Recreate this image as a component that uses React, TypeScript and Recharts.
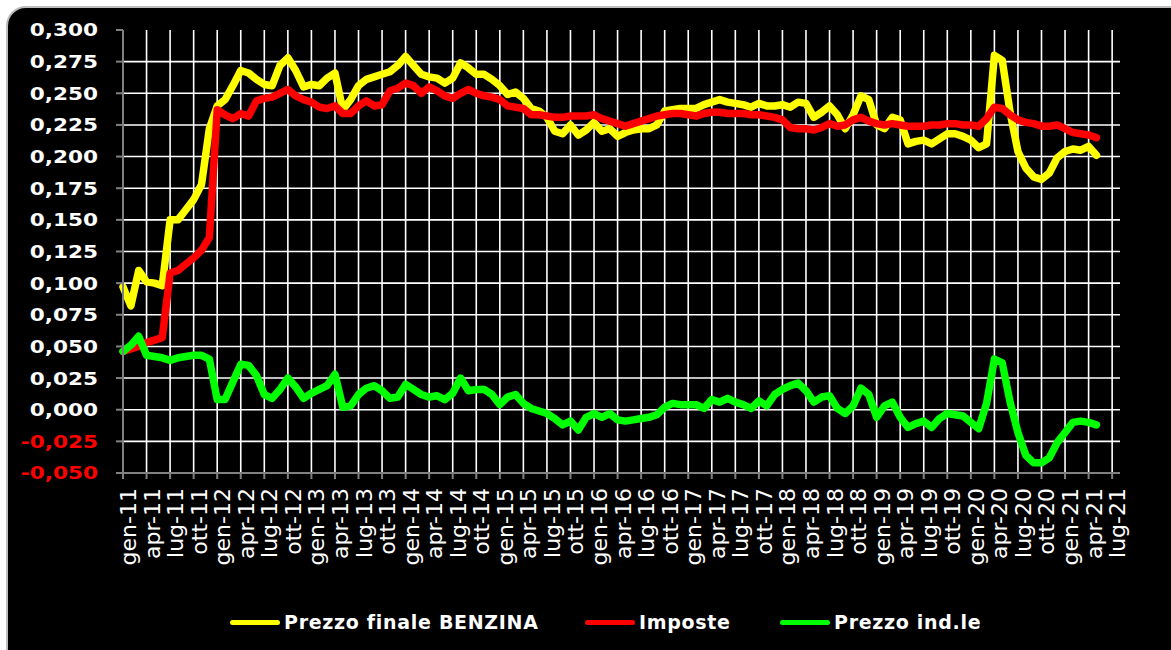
import { LineChart, Line, XAxis, YAxis, CartesianGrid } from 'recharts'

// months from gen-11 (index 0) to mag-21 (index 124)
const benzina = [
  0.097, 0.082, 0.110, 0.101, 0.100, 0.098, 0.150, 0.150, 0.158, 0.166, 0.178, 0.222,
  0.240, 0.245, 0.256, 0.268, 0.266, 0.261, 0.257, 0.256, 0.272, 0.278, 0.268, 0.255,
  0.257, 0.256, 0.262, 0.266, 0.237, 0.245, 0.256, 0.261, 0.263, 0.265, 0.267, 0.272,
  0.279, 0.272, 0.265, 0.263, 0.262, 0.258, 0.262, 0.274, 0.270, 0.265, 0.265, 0.261,
  0.256, 0.249, 0.251, 0.246, 0.238, 0.236, 0.231, 0.220, 0.218, 0.225, 0.217, 0.221,
  0.227, 0.220, 0.222, 0.216, 0.219, 0.221, 0.222, 0.222, 0.225, 0.236, 0.237, 0.238,
  0.238, 0.238, 0.241, 0.243, 0.245, 0.243, 0.242, 0.241, 0.239, 0.242, 0.240, 0.240,
  0.241, 0.239, 0.243, 0.242, 0.231, 0.235, 0.240, 0.233, 0.222, 0.233, 0.248, 0.245,
  0.225, 0.222, 0.231, 0.229, 0.210, 0.212, 0.213, 0.210, 0.214, 0.218, 0.218, 0.216,
  0.213, 0.207, 0.210, 0.280, 0.276, 0.235, 0.204, 0.191, 0.184, 0.182, 0.187, 0.199,
  0.204, 0.206, 0.205, 0.208, 0.201,
]

const imposte = [
  0.046, 0.048, 0.050, 0.053, 0.055, 0.057, 0.108, 0.110, 0.115, 0.120, 0.126, 0.136,
  0.237, 0.233, 0.230, 0.234, 0.232, 0.244, 0.246, 0.247, 0.250, 0.253, 0.248, 0.245,
  0.243, 0.239, 0.238, 0.240, 0.234, 0.234, 0.240, 0.244, 0.240, 0.241, 0.252, 0.254,
  0.258, 0.256, 0.250, 0.255, 0.252, 0.248, 0.246, 0.250, 0.253, 0.250, 0.248, 0.247,
  0.245, 0.240, 0.239, 0.238, 0.233, 0.233, 0.232, 0.231, 0.231, 0.232, 0.232, 0.232,
  0.233, 0.230, 0.228, 0.226, 0.224, 0.226, 0.228, 0.230, 0.232, 0.233, 0.234, 0.234,
  0.233, 0.232, 0.234, 0.235, 0.235, 0.234, 0.234, 0.234, 0.233, 0.233, 0.232, 0.231,
  0.229, 0.223, 0.222, 0.222, 0.221, 0.223, 0.226, 0.224, 0.225, 0.229, 0.231, 0.228,
  0.226, 0.225, 0.226, 0.225, 0.224, 0.224, 0.224, 0.225, 0.225, 0.226, 0.226, 0.225,
  0.225, 0.224, 0.230, 0.239, 0.238, 0.233, 0.229, 0.227, 0.226, 0.224, 0.224, 0.225,
  0.222, 0.219, 0.218, 0.217, 0.215,
]

const industriale = [
  0.046, 0.051, 0.058, 0.043, 0.042, 0.041, 0.039, 0.041, 0.042, 0.043, 0.043, 0.040,
  0.008, 0.008, 0.022, 0.036, 0.035, 0.027, 0.012, 0.009, 0.016, 0.025, 0.018, 0.009,
  0.013, 0.016, 0.019, 0.028, 0.002, 0.003, 0.012, 0.017, 0.019, 0.015, 0.009, 0.010,
  0.020, 0.016, 0.012, 0.010, 0.011, 0.008, 0.013, 0.025, 0.015, 0.016, 0.016, 0.012,
  0.004, 0.010, 0.012, 0.005, 0.001, -0.001, -0.003, -0.007, -0.012, -0.009, -0.016, -0.006,
  -0.003, -0.006, -0.003, -0.008, -0.009, -0.008, -0.007, -0.006, -0.004, 0.002, 0.005, 0.004,
  0.004, 0.004, 0.001, 0.008, 0.006, 0.009, 0.006, 0.004, 0.001, 0.007, 0.003, 0.012,
  0.016, 0.019, 0.021, 0.015, 0.006, 0.010, 0.011, 0.001, -0.003, 0.003, 0.017, 0.012,
  -0.006, 0.003, 0.006, -0.006, -0.014, -0.011, -0.009, -0.014, -0.007, -0.003, -0.004, -0.005,
  -0.010, -0.015, 0.005, 0.040, 0.037, 0.006, -0.018, -0.036, -0.042, -0.042, -0.038, -0.026,
  -0.018, -0.010, -0.009, -0.010, -0.012,
]

const yTicks = [-0.05, -0.025, 0, 0.025, 0.05, 0.075, 0.1, 0.125, 0.15, 0.175, 0.2, 0.225, 0.25, 0.275, 0.3]

const xTickLabels = [
  'gen-11', 'apr-11', 'lug-11', 'ott-11', 'gen-12', 'apr-12', 'lug-12', 'ott-12',
  'gen-13', 'apr-13', 'lug-13', 'ott-13', 'gen-14', 'apr-14', 'lug-14', 'ott-14',
  'gen-15', 'apr-15', 'lug-15', 'ott-15', 'gen-16', 'apr-16', 'lug-16', 'ott-16',
  'gen-17', 'apr-17', 'lug-17', 'ott-17', 'gen-18', 'apr-18', 'lug-18', 'ott-18',
  'gen-19', 'apr-19', 'lug-19', 'ott-19', 'gen-20', 'apr-20', 'lug-20', 'ott-20',
  'gen-21', 'apr-21', 'lug-21',
]
const xTicks = xTickLabels.map((_, i) => i * 3)

const series = [
  { key: 'benzina', name: 'Prezzo finale BENZINA', color: '#ffff00' },
  { key: 'imposte', name: 'Imposte', color: '#ff0000' },
  { key: 'industriale', name: 'Prezzo ind.le', color: '#00ff00' },
]

const rows = benzina.map((v, i) => ({
  m: i,
  benzina: v,
  imposte: imposte[i],
  industriale: industriale[i],
}))

const FONT = '"DejaVu Sans", Verdana, sans-serif'

function YTick({ x, y, payload }: any) {
  const v = payload.value as number
  const label = v.toFixed(3).replace('.', ',')
  return (
    <text
      transform={`translate(${x},${y}) scale(1.2,1)`}
      textAnchor="end"
      dy="0.36em"
      fill={v < 0 ? '#ff0000' : '#ffffff'}
      fontSize={18}
      fontWeight="bold"
      fontFamily={FONT}
    >
      {label}
    </text>
  )
}

function XTick({ x, y, payload }: any) {
  return (
    <text
      transform={`translate(${x + 13},${y}) rotate(-90)`}
      textAnchor="end"
      fill="#ffffff"
      fontSize={22}
      fontFamily={FONT}
    >
      {xTickLabels[payload.value / 3]}
    </text>
  )
}

const legendPos = [230, 585, 780]

export default function App() {
  return (
    <div style={{ position: 'absolute', left: 0, top: 0, width: 1171, height: 650, background: '#fff', overflow: 'hidden' }}>
      {/* black panel with rounded corner */}
      <div
        style={{
          position: 'absolute',
          left: 6,
          top: 6,
          width: 1200,
          height: 700,
          background: '#000',
          border: '2px solid #bdbdbd',
          borderRadius: 20,
        }}
      />
      <div style={{ position: 'absolute', left: 0, top: 0 }}>
        <LineChart width={1171} height={650} data={rows} margin={{ top: 30, right: 51, bottom: 77, left: 23 }}>
          <CartesianGrid
            stroke="#ffffff"
            strokeWidth={1.6}
            horizontalValues={yTicks.filter((t) => t > -0.05 && t < 0.3)}
            verticalValues={xTicks.filter((t) => t > 0)}
          />
          <XAxis
            dataKey="m"
            type="number"
            domain={[0, 127]}
            ticks={xTicks}
            interval={0}
            height={100}
            stroke="#808080"
            strokeWidth={2}
            tickSize={6}
            tickMargin={9}
            tick={<XTick />}
          />
          <YAxis
            type="number"
            domain={[-0.05, 0.3]}
            ticks={yTicks}
            interval={0}
            width={100}
            stroke="#808080"
            strokeWidth={2}
            tickSize={7}
            tickMargin={18}
            tick={<YTick />}
          />
          {series.map((s) => (
            <Line
              key={s.key}
              type="linear"
              dataKey={s.key}
              name={s.name}
              stroke={s.color}
              strokeWidth={7.5}
              strokeLinejoin="round"
              strokeLinecap="round"
              dot={false}
              isAnimationActive={false}
            />
          ))}
        </LineChart>
      </div>
      {/* Legend */}
      {series.map((s, i) => (
        <div
          key={s.key}
          style={{ position: 'absolute', left: legendPos[i], top: 610, display: 'flex', alignItems: 'center', height: 24 }}
        >
          <div style={{ width: 50, height: 5, background: s.color, borderRadius: 3 }} />
          <span
            style={{
              marginLeft: 4,
              color: '#fff',
              fontFamily: FONT,
              fontWeight: 'bold',
              fontSize: 19,
              letterSpacing: 0.7,
              lineHeight: '24px',
              whiteSpace: 'nowrap',
            }}
          >
            {s.name}
          </span>
        </div>
      ))}
    </div>
  )
}
